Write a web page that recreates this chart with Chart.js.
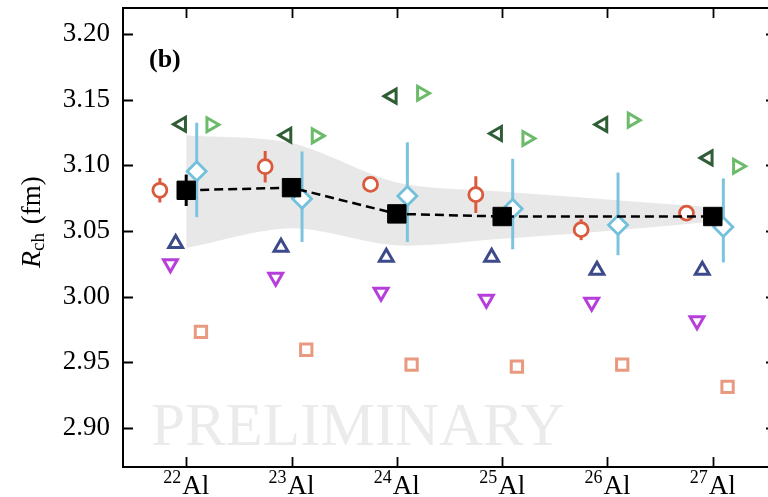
<!DOCTYPE html>
<html><head><meta charset="utf-8">
<script src="https://cdn.jsdelivr.net/npm/chart.js@4.4.0/dist/chart.umd.min.js"></script>
<style>html,body{margin:0;padding:0;overflow:hidden;background:#fff;width:768px;height:497px}canvas{display:block;margin-top:-6px}</style>
</head><body>
<canvas id="c" width="790" height="503" style="width:790px;height:503px"></canvas>
<script>
// ---- data ----
const nuclei = [22, 23, 24, 25, 26, 27];
const massLabels = ['22', '23', '24', '25', '26', '27'];
const elementLabel = 'Al';
const yTicks = [2.90, 2.95, 3.00, 3.05, 3.10, 3.15, 3.20];

const exptR = [3.081, 3.083, 3.063, 3.061, null, 3.061];
const exptErr = [0.012, 0.005, 0.004, 0.004, null, 0.004];

const circleR = [3.081, 3.099, 3.0855, 3.0777, 3.051, 3.0636];
const circleErr = [0.0093, 0.012, 0.003, 0.014, 0.008, 0.003];

const diamondR = [3.0955, 3.0746, 3.0766, 3.067, 3.0545, 3.053];
const diamondErrUp = [0.037, 0.036, 0.041, 0.038, 0.040, 0.037];
const diamondErrDn = [0.035, 0.033, 0.035, 0.031, 0.023, 0.027];

const leftTriR = [3.1314, 3.123, 3.1528, 3.1243, 3.1312, 3.1057];
const rightTriR = [3.131, 3.1225, 3.155, 3.1205, 3.1345, 3.0993];
const upTriR = [3.0404, 3.0376, 3.030, 3.030, 3.020, 3.020];
const downTriR = [3.025, 3.0147, 3.0032, 2.998, 2.9956, 2.9816];
const squareR = [2.973, 2.9594, 2.948, 2.9465, 2.948, 2.9311];

const bandUpper = [3.123, 3.117, 3.087, 3.080, 3.074, 3.068];
const bandLower = [3.037, 3.052, 3.039, 3.044, 3.050, 3.057];

// ---- helpers ----
const SERIF = '"Liberation Serif", "DejaVu Serif", serif';
const DY = 6; // canvas is shifted up by this many pixels
const pts = (vals, off) => nuclei.map((n, i) => ({x: n + off, y: vals[i]}));

const errorBars = {
  id: 'errorBars',
  beforeDatasetDraw(chart, args) {
    const ds = chart.data.datasets[args.index];
    if (!ds.errUp) return;
    const ctx = chart.ctx, xs = chart.scales.x, ys = chart.scales.y;
    ctx.save();
    ctx.strokeStyle = ds.errColor;
    ctx.lineWidth = ds.errWidth;
    ds.data.forEach((p, i) => {
      if (p.y == null || ds.errUp[i] == null) return;
      const X = xs.getPixelForValue(p.x);
      ctx.beginPath();
      ctx.moveTo(X, ys.getPixelForValue(p.y + ds.errUp[i]));
      ctx.lineTo(X, ys.getPixelForValue(p.y - ds.errDn[i]));
      ctx.stroke();
    });
    ctx.restore();
  }
};

const decor = {
  id: 'decor',
  beforeDatasetsDraw(chart) {
    const ctx = chart.ctx;
    ctx.save();
    ctx.fillStyle = '#ebebeb';
    ctx.font = '61px ' + SERIF;
    ctx.textBaseline = 'alphabetic';
    ctx.textAlign = 'left';
    ctx.fillText('PRELIMINARY', 151, 445 + DY);
    ctx.restore();
  },
  afterDraw(chart) {
    const ctx = chart.ctx, a = chart.chartArea, xs = chart.scales.x, ys = chart.scales.y;
    ctx.save();
    ctx.strokeStyle = '#000';
    ctx.lineWidth = 2;
    ctx.strokeRect(a.left, a.top, a.right - a.left, a.bottom - a.top);
    ctx.lineWidth = 1.8;
    const tl = 10;
    nuclei.forEach(n => {
      const X = Math.round(xs.getPixelForValue(n)) + 0.5;
      ctx.beginPath();
      ctx.moveTo(X, a.bottom); ctx.lineTo(X, a.bottom - tl);
      ctx.moveTo(X, a.top); ctx.lineTo(X, a.top + tl);
      ctx.stroke();
    });
    yTicks.forEach(v => {
      const Y = Math.round(ys.getPixelForValue(v)) + 0.5;
      ctx.beginPath();
      ctx.moveTo(a.left, Y); ctx.lineTo(a.left + tl, Y);
      ctx.moveTo(a.right, Y); ctx.lineTo(a.right - tl, Y);
      ctx.stroke();
    });
    // x tick labels with superscript mass numbers
    ctx.fillStyle = '#000';
    ctx.textBaseline = 'alphabetic';
    ctx.textAlign = 'left';
    nuclei.forEach((n, i) => {
      const X = xs.getPixelForValue(n);
      ctx.font = '18px ' + SERIF;
      const ws = ctx.measureText(massLabels[i]).width;
      ctx.font = '27px ' + SERIF;
      const wa = ctx.measureText(elementLabel).width;
      const x0 = X - (ws + wa + 1) / 2;
      ctx.font = '18px ' + SERIF;
      ctx.fillText(massLabels[i], x0, a.bottom + 16);
      ctx.font = '27px ' + SERIF;
      ctx.fillText(elementLabel, x0 + ws + 1, a.bottom + 27);
    });
    // y axis title
    ctx.save();
    ctx.translate(40, 268 + DY);
    ctx.rotate(-Math.PI / 2);
    ctx.font = 'italic 28px ' + SERIF;
    ctx.fillText('R', 0, 0);
    let w = ctx.measureText('R').width;
    ctx.font = '19px ' + SERIF;
    ctx.fillText('ch', w, 4);
    w += ctx.measureText('ch').width;
    ctx.font = '27px ' + SERIF;
    ctx.fillText(' (fm)', w + 2, 0);
    ctx.restore();
    // panel label
    ctx.font = 'bold 26px ' + SERIF;
    ctx.fillText('(b)', 149, 67 + DY);
    ctx.restore();
  }
};

const white = '#ffffff';
const datasets = [
  {
    label: 'expt', data: pts(exptR, 0), order: 0, showLine: true, spanGaps: true,
    borderColor: '#000', borderWidth: 2.5, borderDash: [9, 5],
    pointStyle: 'rect', pointRadius: 13, pointBackgroundColor: '#000', pointBorderColor: '#000', pointBorderWidth: 1,
    errUp: exptErr, errDn: exptErr, errColor: '#000', errWidth: 3
  },
  {
    label: 'diamond', data: pts(diamondR, 0.10), order: 1,
    pointStyle: 'rectRot', pointRadius: 9.5, pointBackgroundColor: white, pointBorderColor: '#72c0dc', pointBorderWidth: 2.8,
    errUp: diamondErrUp, errDn: diamondErrDn, errColor: '#7cc4de', errWidth: 3
  },
  {
    label: 'circle', data: pts(circleR, -0.25), order: 2,
    pointStyle: 'circle', pointRadius: 7, pointBackgroundColor: white, pointBorderColor: '#d95a3c', pointBorderWidth: 2.8,
    errUp: circleErr, errDn: circleErr, errColor: '#d95a3c', errWidth: 3
  },
  {
    label: 'leftTri', data: pts(leftTriR, -0.045), order: 3,
    pointStyle: 'triangle', rotation: 270, pointRadius: 8, pointBackgroundColor: white, pointBorderColor: '#2f5d36', pointBorderWidth: 3
  },
  {
    label: 'rightTri', data: pts(rightTriR, 0.235), order: 4,
    pointStyle: 'triangle', rotation: 90, pointRadius: 8, pointBackgroundColor: white, pointBorderColor: '#6dbb6a', pointBorderWidth: 3
  },
  {
    label: 'upTri', data: pts(upTriR, -0.10), order: 5,
    pointStyle: 'triangle', rotation: 0, pointRadius: 8, pointBackgroundColor: white, pointBorderColor: '#3d4a8a', pointBorderWidth: 3
  },
  {
    label: 'downTri', data: pts(downTriR, -0.15), order: 6,
    pointStyle: 'triangle', rotation: 180, pointRadius: 8, pointBackgroundColor: white, pointBorderColor: '#b63fdc', pointBorderWidth: 3
  },
  {
    label: 'square', data: pts(squareR, 0.14), order: 7,
    pointStyle: 'rect', pointRadius: 8, pointBackgroundColor: white, pointBorderColor: '#e8997f', pointBorderWidth: 3
  },
  {
    type: 'line', label: 'bandUpper', data: pts(bandUpper, 0), order: 10,
    borderWidth: 0, pointRadius: 0, backgroundColor: '#e8e8e8', borderColor: 'rgba(0,0,0,0)', fill: '+1', tension: 0.3
  },
  {
    type: 'line', label: 'bandLower', data: pts(bandLower, 0), order: 11,
    borderWidth: 0, pointRadius: 0, borderColor: 'rgba(0,0,0,0)', fill: false, tension: 0.3
  }
];

new Chart(document.getElementById('c'), {
  type: 'scatter',
  data: {datasets},
  plugins: [errorBars, decor],
  options: {
    responsive: false, animation: false, devicePixelRatio: 1,
    layout: {padding: {left: 0, top: 2, right: 13, bottom: 0}},
    plugins: {legend: {display: false}, tooltip: {enabled: false}},
    scales: {
      x: {
        type: 'linear', min: 21.4, max: 27.6,
        ticks: {display: false}, grid: {display: false, drawTicks: false}, border: {display: false},
        afterFit(s) { s.height = 30; s.paddingLeft = 0; s.paddingRight = 0; }
      },
      y: {
        min: 2.87, max: 3.22,
        afterBuildTicks(s) { s.ticks = yTicks.map(v => ({value: v})); },
        ticks: {font: {family: SERIF, size: 27}, color: '#000', padding: 13, callback: v => Number(v).toFixed(2)},
        grid: {display: false, drawTicks: false}, border: {display: false},
        afterFit(s) { s.width = 123; s.paddingTop = 0; s.paddingBottom = 0; }
      }
    }
  }
});
</script>
</body></html>
